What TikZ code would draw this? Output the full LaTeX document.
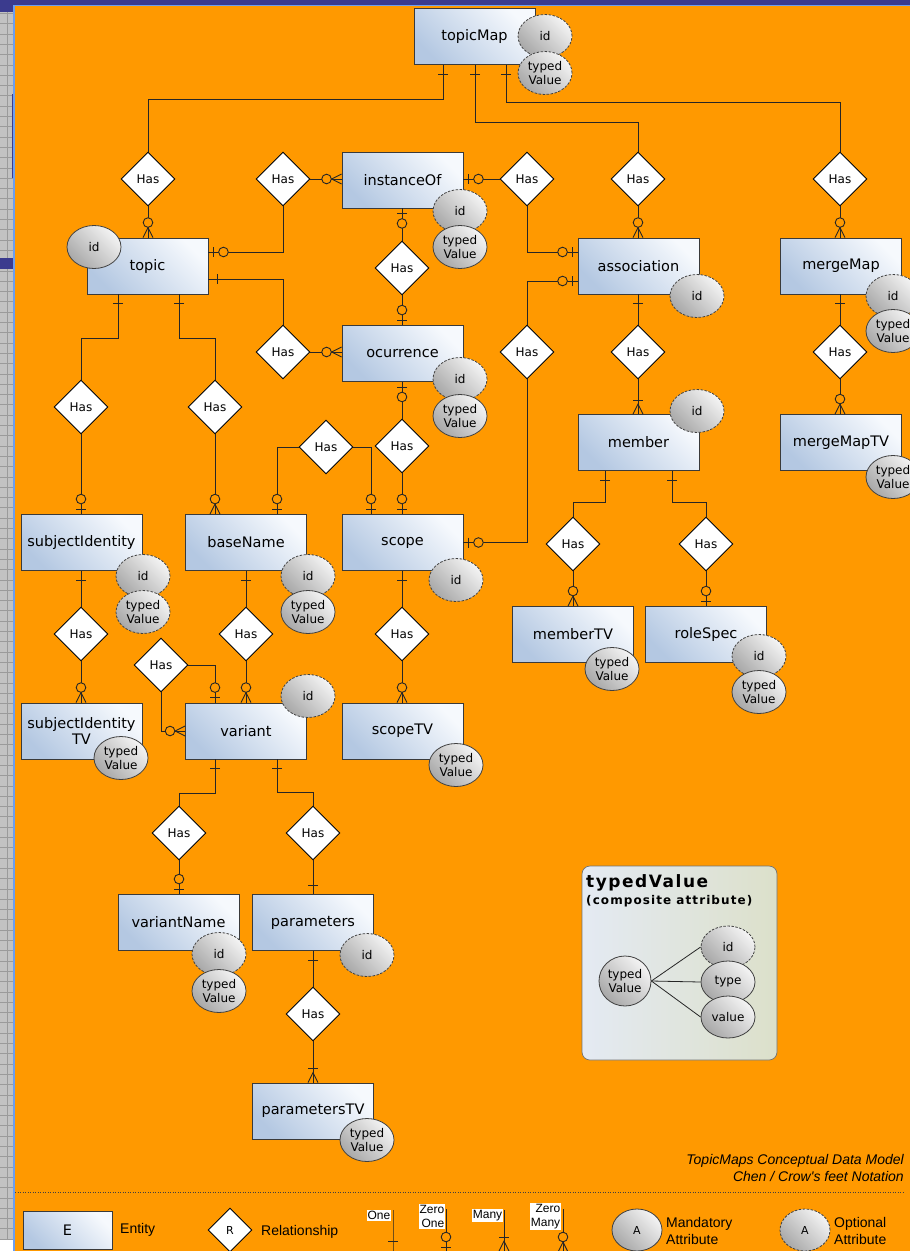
\documentclass[tikz,border=0pt]{standalone}
\usepackage{fontspec}
\setmainfont{DejaVu Sans}
\newfontfamily\arialfont{Liberation Sans}
\newfontfamily\trackfont[LetterSpace=9]{DejaVu Sans}
\usetikzlibrary{shapes.geometric}

\definecolor{bgorange}{HTML}{FF9900}
\definecolor{entlight}{HTML}{F6F9FD}
\definecolor{entdark}{HTML}{B4C8E2}
\definecolor{entedge}{HTML}{3A3A3A}
\definecolor{attlight}{HTML}{F4F4F4}
\definecolor{attdark}{HTML}{A8A8A8}
\definecolor{slidenavy}{HTML}{3B3B8E}
\definecolor{slideblue}{HTML}{6C9EF0}
\definecolor{gridgrey}{HTML}{C2C2C2}
\definecolor{gridline}{HTML}{9A9A9A}
\definecolor{boxleft}{HTML}{E4EAF3}
\definecolor{boxright}{HTML}{DCE0CA}

\tikzset{
  conn/.style={draw=black!85, line width=0.9pt},
  entity/.style={draw=entedge, line width=0.9pt, rectangle, minimum width=121pt,
    minimum height=56pt, inner sep=0pt, top color=entlight, bottom color=entdark,
    shading angle=-45, font=\fontsize{14.5}{17}\selectfont, align=center},
  rel/.style={draw=black, line width=0.9pt, diamond, aspect=1, fill=white,
    minimum width=54pt, minimum height=54pt, inner sep=0pt,
    font=\fontsize{12}{14}\selectfont},
  attr/.style={draw=black!75, line width=0.8pt, ellipse, minimum width=54pt,
    minimum height=43pt, inner sep=0pt, top color=attlight, bottom color=attdark,
    shading angle=-45, font=\fontsize{12}{14.5}\selectfont, align=center},
  optattr/.style={attr, dash pattern=on 2.5pt off 1.5pt},
  tag/.style={fill=white, inner sep=1pt, align=right,
    font=\arialfont\fontsize{12}{14.5}\selectfont},
  legtext/.style={anchor=west, inner sep=0pt, align=left,
    font=\arialfont\fontsize{14}{17}\selectfont},
  % crow's foot end marks: entity edge at the origin, line leaving upwards
  pics/mkone/.style={code={\draw[conn] (-5,-9) -- (5,-9);}},
  pics/mkzeroone/.style={code={
    \draw[conn] (-5,-5) -- (5,-5);
    \draw[conn, fill=bgorange] (0,-15) circle[radius=4.8pt];}},
  pics/mkmany/.style={code={
    \draw[conn] (-5,-14) -- (5,-14);
    \draw[conn] (-5,0) -- (0,-10) -- (5,0);}},
  pics/mkzeromany/.style={code={
    \draw[conn, fill=bgorange] (0,-15) circle[radius=4.8pt];
    \draw[conn] (-5,0) -- (0,-10) -- (5,0);}},
}

\begin{document}
\begin{tikzpicture}[x=1pt,y=-1pt]
\useasboundingbox (0,0) rectangle (910,1251);

% window frame around the slide
\fill[gridgrey] (0,0) rectangle (15,1251);
\foreach \gy in {3,13.3,...,1251} \draw[gridline, line width=0.5pt] (0,\gy) -- (14,\gy);
\draw[gridline, line width=0.5pt] (7,0) -- (7,1251);
\fill[slidenavy] (0,0) rectangle (910,4.5);
\fill[slidenavy] (0,0) rectangle (13,11.5);
\fill[slidenavy] (0,258) rectangle (13,269);
\draw[slidenavy, line width=1pt] (12.5,94) -- (12.5,178);
\fill[white] (0,1240) rectangle (13,1251);
\fill[bgorange] (14,5) rectangle (910,1251);
\draw[slideblue, line width=1.6pt] (14,1251) -- (14,5.3) -- (910,5.3);

% entities
\node[entity] (topicMap) at (474.5,36.5) {topicMap};
\node[entity] (topic) at (147.5,266) {topic};
\node[entity] (instanceOf) at (402.5,180) {instanceOf};
\node[entity] (association) at (638.5,266) {association};
\node[entity] (mergeMap) at (841,266) {mergeMap};
\node[entity] (ocurrence) at (402.5,353.5) {ocurrence};
\node[entity] (member) at (638.5,442.5) {member};
\node[entity] (mergeMapTV) at (841,442.5) {mergeMapTV};
\node[entity] (subjectIdentity) at (81.5,542.5) {subjectIdentity};
\node[entity] (baseName) at (246,542.5) {baseName};
\node[entity] (scope) at (402.5,542.5) {scope};
\node[entity] (memberTV) at (573,634.5) {memberTV};
\node[entity] (roleSpec) at (706,634.5) {roleSpec};
\node[entity] (subjectIdentityTV) at (81.5,731) {subjectIdentity\\[-1pt]TV};
\node[entity] (variant) at (246,731) {variant};
\node[entity] (scopeTV) at (402.5,731) {scopeTV};
\node[entity] (variantName) at (178.5,922.5) {variantName};
\node[entity] (parameters) at (313,922.5) {parameters};
\node[entity] (parametersTV) at (313,1111) {parametersTV};

% relationships
\node[rel] (d1) at (148,179) {Has};
\node[rel] (d2) at (283,179) {Has};
\node[rel] (d3) at (527,179) {Has};
\node[rel] (d4) at (638,179) {Has};
\node[rel] (d5) at (840,179) {Has};
\node[rel] (d6) at (402,268) {Has};
\node[rel] (d7) at (283,352) {Has};
\node[rel] (d8) at (527,352) {Has};
\node[rel] (d9) at (638,352) {Has};
\node[rel] (d10) at (840,352) {Has};
\node[rel] (d11) at (81,407) {Has};
\node[rel] (d12) at (215,407) {Has};
\node[rel] (d13) at (326,447) {Has};
\node[rel] (d14) at (402,446) {Has};
\node[rel] (d15) at (573,544) {Has};
\node[rel] (d16) at (706,544) {Has};
\node[rel] (d17) at (81,634) {Has};
\node[rel] (d18) at (246,634) {Has};
\node[rel] (d19) at (161,665) {Has};
\node[rel] (d20) at (402,634) {Has};
\node[rel] (d21) at (179,833) {Has};
\node[rel] (d22) at (313,833) {Has};
\node[rel] (d23) at (313,1014) {Has};

% topicMap to topic, association, mergeMap
\draw[conn] ([xshift=-31.5pt]topicMap.south) -- ++(0,34) -| (d1.north);
\pic[rotate=180] at ([xshift=-31.5pt]topicMap.south) {mkone};
\draw[conn] (d1.south) -- (d1.south |- topic.north);
\pic at (d1.south |- topic.north) {mkzeromany};

\draw[conn] ([xshift=0.5pt]topicMap.south) -- ++(0,57) -| (d4.north);
\pic[rotate=180] at ([xshift=0.5pt]topicMap.south) {mkone};
\draw[conn] (d4.south) -- (d4.south |- association.north);
\pic at (d4.south |- association.north) {mkzeromany};

\draw[conn] ([xshift=31.5pt]topicMap.south) -- ++(0,37) -| (d5.north);
\pic[rotate=180] at ([xshift=31.5pt]topicMap.south) {mkone};
\draw[conn] (d5.south) -- (d5.south |- mergeMap.north);
\pic at (d5.south |- mergeMap.north) {mkzeromany};

% topic to instanceOf and ocurrence
\draw[conn] ([yshift=14pt]topic.east) -| (d2.south);
\pic[rotate=-90] at ([yshift=14pt]topic.east) {mkzeroone};
\draw[conn] (d2.east) -- (d2.east -| instanceOf.west);
\pic[rotate=90] at (d2.east -| instanceOf.west) {mkzeromany};

\draw[conn] ([yshift=-13pt]topic.east) -| (d7.north);
\pic[rotate=-90] at ([yshift=-13pt]topic.east) {mkone};
\draw[conn] (d7.east) -- (d7.east -| ocurrence.west);
\pic[rotate=90] at (d7.east -| ocurrence.west) {mkzeromany};

% instanceOf to association and ocurrence
\draw[conn] (d3.west -| instanceOf.east) -- (d3.west);
\pic[rotate=-90] at (d3.west -| instanceOf.east) {mkzeroone};
\draw[conn] (d3.south) |- ([yshift=14pt]association.west);
\pic[rotate=90] at ([yshift=14pt]association.west) {mkzeroone};

\draw[conn] (d6.north |- instanceOf.south) -- (d6.north);
\pic[rotate=180] at (d6.north |- instanceOf.south) {mkzeroone};
\draw[conn] (d6.south) -- (d6.south |- ocurrence.north);
\pic at (d6.south |- ocurrence.north) {mkzeroone};

% association to scope and member
\draw[conn] ([yshift=-15pt]association.west) -| (d8.north);
\pic[rotate=90] at ([yshift=-15pt]association.west) {mkzeroone};
\draw[conn] (d8.south) |- (scope.east);
\pic[rotate=-90] at (scope.east) {mkzeroone};

\draw[conn] (d9.north |- association.south) -- (d9.north);
\pic[rotate=180] at (d9.north |- association.south) {mkone};
\draw[conn] (d9.south) -- (d9.south |- member.north);
\pic at (d9.south |- member.north) {mkmany};

% mergeMap to mergeMapTV
\draw[conn] (d10.north |- mergeMap.south) -- (d10.north);
\pic[rotate=180] at (d10.north |- mergeMap.south) {mkone};
\draw[conn] (d10.south) -- (d10.south |- mergeMapTV.north);
\pic at (d10.south |- mergeMapTV.north) {mkzeromany};

% topic to subjectIdentity and baseName
\draw[conn] ([xshift=-29.5pt]topic.south) -- ++(0,44) -| (d11.north);
\pic[rotate=180] at ([xshift=-29.5pt]topic.south) {mkone};
\draw[conn] (d11.south) -- (d11.south |- subjectIdentity.north);
\pic at (d11.south |- subjectIdentity.north) {mkzeroone};

\draw[conn] ([xshift=31.5pt]topic.south) -- ++(0,44) -| (d12.north);
\pic[rotate=180] at ([xshift=31.5pt]topic.south) {mkone};
\draw[conn] (d12.south) -- (d12.south |- baseName.north);
\pic at (d12.south |- baseName.north) {mkzeromany};

% baseName to scope, ocurrence to scope
\draw[conn] (d13.west) -| ([xshift=31pt]baseName.north);
\pic at ([xshift=31pt]baseName.north) {mkzeroone};
\draw[conn] (d13.east) -| ([xshift=-31.5pt]scope.north);
\pic at ([xshift=-31.5pt]scope.north) {mkzeroone};

\draw[conn] (d14.north |- ocurrence.south) -- (d14.north);
\pic[rotate=180] at (d14.north |- ocurrence.south) {mkzeroone};
\draw[conn] (d14.south) -- (d14.south |- scope.north);
\pic at (d14.south |- scope.north) {mkzeroone};

% member to memberTV and roleSpec
\draw[conn] ([xshift=-33.5pt]member.south) -- ++(0,31) -| (d15.north);
\pic[rotate=180] at ([xshift=-33.5pt]member.south) {mkone};
\draw[conn] (d15.south) -- (d15.south |- memberTV.north);
\pic at (d15.south |- memberTV.north) {mkzeromany};

\draw[conn] ([xshift=33.5pt]member.south) -- ++(0,31) -| (d16.north);
\pic[rotate=180] at ([xshift=33.5pt]member.south) {mkone};
\draw[conn] (d16.south) -- (d16.south |- roleSpec.north);
\pic at (d16.south |- roleSpec.north) {mkzeroone};

% second row down
\draw[conn] (d17.north |- subjectIdentity.south) -- (d17.north);
\pic[rotate=180] at (d17.north |- subjectIdentity.south) {mkone};
\draw[conn] (d17.south) -- (d17.south |- subjectIdentityTV.north);
\pic at (d17.south |- subjectIdentityTV.north) {mkzeromany};

\draw[conn] (d18.north |- baseName.south) -- (d18.north);
\pic[rotate=180] at (d18.north |- baseName.south) {mkone};
\draw[conn] (d18.south) -- (d18.south |- variant.north);
\pic at (d18.south |- variant.north) {mkzeromany};

\draw[conn] (d19.east) -| ([xshift=-31pt]variant.north);
\pic at ([xshift=-31pt]variant.north) {mkzeroone};
\draw[conn] (d19.south) |- (variant.west);
\pic[rotate=90] at (variant.west) {mkzeromany};

\draw[conn] (d20.north |- scope.south) -- (d20.north);
\pic[rotate=180] at (d20.north |- scope.south) {mkone};
\draw[conn] (d20.south) -- (d20.south |- scopeTV.north);
\pic at (d20.south |- scopeTV.north) {mkzeromany};

% variant to variantName and parameters
\draw[conn] ([xshift=-31pt]variant.south) -- ++(0,34) -| (d21.north);
\pic[rotate=180] at ([xshift=-31pt]variant.south) {mkone};
\draw[conn] (d21.south) -- (d21.south |- variantName.north);
\pic at (d21.south |- variantName.north) {mkzeroone};

\draw[conn] ([xshift=31pt]variant.south) -- ++(0,33) -| (d22.north);
\pic[rotate=180] at ([xshift=31pt]variant.south) {mkone};
\draw[conn] (d22.south) -- (d22.south |- parameters.north);
\pic at (d22.south |- parameters.north) {mkone};

\draw[conn] (d23.north |- parameters.south) -- (d23.north);
\pic[rotate=180] at (d23.north |- parameters.south) {mkone};
\draw[conn] (d23.south) -- (d23.south |- parametersTV.north);
\pic at (d23.south |- parametersTV.north) {mkmany};

% attributes
\node[optattr] (topicMapId) at (545,36) {id};
\node[optattr] (topicMapTv) at (545,73) {typed\\Value};
\node[attr] (topicId) at (94,247) {id};
\node[optattr] (instanceOfId) at (460,211) {id};
\node[attr] (instanceOfTv) at (460,247) {typed\\Value};
\node[optattr] (associationId) at (697,296) {id};
\node[optattr] (mergeMapId) at (893,296) {id};
\node[attr] (mergeMapTv) at (893,331) {typed\\Value};
\node[optattr] (ocurrenceId) at (460,379) {id};
\node[attr] (ocurrenceTv) at (460,416) {typed\\Value};
\node[optattr] (memberId) at (697,411) {id};
\node[attr] (mergeMapTVTv) at (893,477) {typed\\Value};
\node[optattr] (subjectIdentityId) at (143,576) {id};
\node[optattr] (subjectIdentityTv) at (143,612) {typed\\Value};
\node[optattr] (baseNameId) at (308,576) {id};
\node[attr] (baseNameTv) at (308,612) {typed\\Value};
\node[optattr] (scopeId) at (456,580) {id};
\node[attr] (memberTVTv) at (612,669) {typed\\Value};
\node[optattr] (roleSpecId) at (759,656) {id};
\node[attr] (roleSpecTv) at (759,692) {typed\\Value};
\node[attr] (subjectIdentityTVTv) at (121,758) {typed\\Value};
\node[optattr] (variantId) at (308,696) {id};
\node[attr] (scopeTVTv) at (456,765) {typed\\Value};
\node[optattr] (variantNameId) at (219,954) {id};
\node[attr] (variantNameTv) at (219,991) {typed\\Value};
\node[optattr] (parametersId) at (367,955) {id};
\node[attr] (parametersTVTv) at (367,1140) {typed\\Value};

% composite attribute panel
\node[draw=black!55, line width=0.7pt, rounded corners=8pt, minimum width=195pt,
  minimum height=194pt, left color=boxleft, right color=boxright] (tvBox) at (679.5,963) {};
\node[anchor=west, inner sep=0pt, font=\trackfont\bfseries\fontsize{17}{19}\selectfont]
  (tvTitle) at (586,883) {typedValue};
\node[anchor=west, inner sep=0pt, font=\trackfont\bfseries\fontsize{12}{14}\selectfont]
  (tvSub) at (586,901) {(composite attribute)};
\node[attr, minimum width=52pt, minimum height=50pt] (tvMain) at (625,981) {typed\\Value};
\node[optattr, minimum height=42pt] (tvId) at (728,947) {id};
\node[attr, minimum height=42pt] (tvType) at (728,982) {type};
\node[attr, minimum height=42pt] (tvValue) at (728,1017) {value};
\draw[conn, line width=0.8pt] (tvMain.east) -- (tvId.west);
\draw[conn, line width=0.8pt] (tvMain.east) -- (tvType.west);
\draw[conn, line width=0.8pt] (tvMain.east) -- (tvValue.west);

% caption
\node[anchor=east, inner sep=0pt, align=right,
  font=\arialfont\itshape\fontsize{14}{17}\selectfont] (caption) at (904,1167.5)
  {TopicMaps Conceptual Data Model\\Chen / Crow's feet Notation};
\coordinate (sepL) at (15,1192);
\coordinate (sepR) at (903,1192);
\draw[black!75, line width=0.7pt, dash pattern=on 1pt off 1.5pt] (sepL) -- (sepR);

% legend
\node[entity, minimum width=89pt, minimum height=38pt] (lgEntity) at (67.5,1230) {E};
\node[legtext] (lgEntityTxt) at (120,1230) {Entity};
\node[rel, minimum width=44pt, minimum height=44pt, font=\fontsize{11}{13}\selectfont] (lgRel) at (230,1230) {R};
\node[legtext] (lgRelTxt) at (261,1232) {Relationship};

\node[tag] (lgOne) at (379,1215.5) {One};
\coordinate (oneTop) at (393,1210);
\coordinate (oneEnd) at (393,1250);
\draw[conn] (oneTop) -- (oneEnd) -- ++(0,5);
\pic at (oneEnd) {mkone};

\node[tag] (lgZeroOne) at (432,1216.5) {Zero\\One};
\coordinate (zoTop) at (446,1209);
\coordinate (zoEnd) at (446,1252);
\draw[conn] (zoTop) -- (zoEnd);
\pic at (zoEnd) {mkzeroone};

\node[tag] (lgMany) at (487.5,1215.5) {Many};
\coordinate (mnTop) at (504,1210);
\coordinate (mnEnd) at (504,1251);
\draw[conn] (mnTop) -- (mnEnd);
\pic at (mnEnd) {mkmany};

\node[tag] (lgZeroMany) at (545.5,1216.5) {Zero\\Many};
\coordinate (zmTop) at (563,1209);
\coordinate (zmEnd) at (563,1252);
\draw[conn] (zmTop) -- (zmEnd);
\pic at (zmEnd) {mkzeromany};

\node[attr, minimum width=50pt, minimum height=42pt, font=\fontsize{11}{13}\selectfont] (lgMand) at (637,1230) {A};
\node[legtext] (lgMandTxt) at (666,1230.5) {Mandatory\\Attribute};
\node[optattr, minimum width=50pt, minimum height=42pt, font=\fontsize{11}{13}\selectfont] (lgOpt) at (805,1230) {A};
\node[legtext] (lgOptTxt) at (834,1230.5) {Optional\\Attribute};
\end{tikzpicture}
\end{document}
